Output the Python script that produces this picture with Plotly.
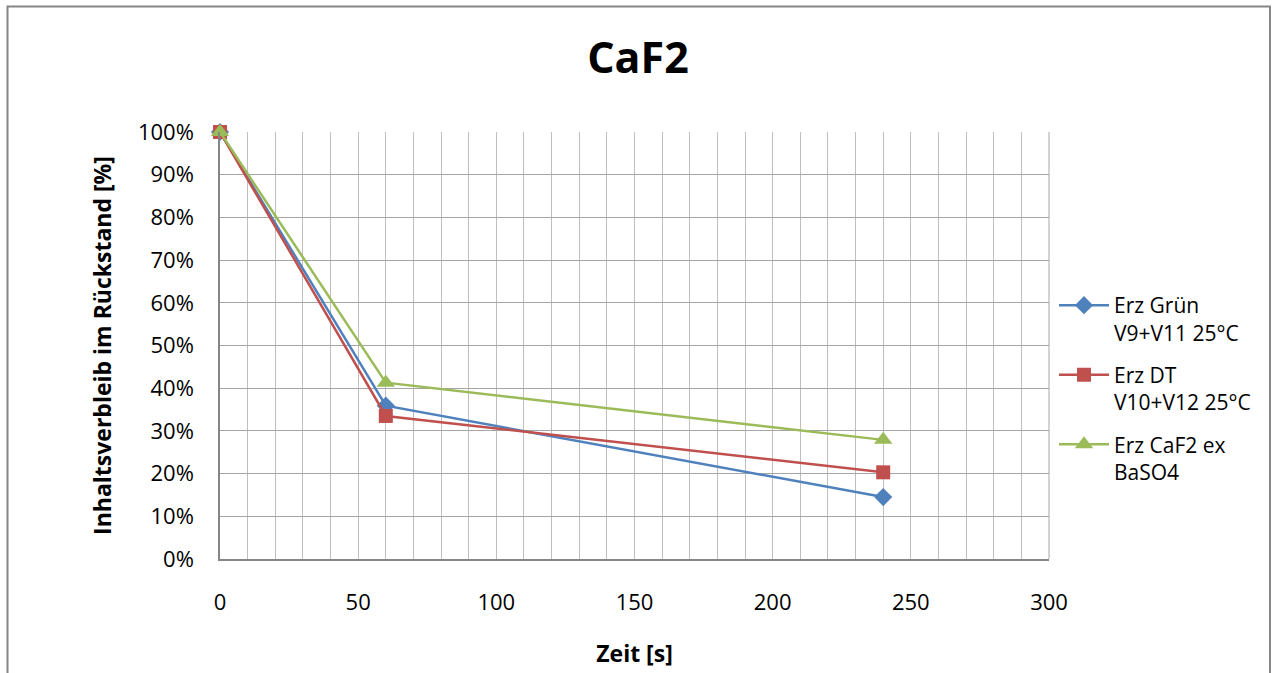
import plotly.graph_objects as go

# Zeitpunkte [s] und Inhaltsverbleib im Rückstand [%]
zeit = [0, 60, 240]
erz_gruen = [100, 35.9, 14.5]
erz_dt = [100, 33.5, 20.3]
erz_caf2 = [100, 41.3, 27.9]

serien = [
    ("Erz Grün<br>V9+V11 25°C", erz_gruen, "#4F81BD", "diamond", 14),
    ("Erz DT<br>V10+V12 25°C", erz_dt, "#C0504D", "square", 14),
    ("Erz CaF2 ex<br>BaSO4", erz_caf2, "#9BBB59", "triangle-up", 16),
]

FONT = "Open Sans, sans-serif"

fig = go.Figure()
for i, (name, werte, farbe, symbol, groesse) in enumerate(serien):
    fig.add_trace(go.Scatter(
        x=zeit, y=[w / 100 for w in werte], name=name,
        legendgroup=f"g{i}",
        mode="lines+markers",
        line=dict(color=farbe, width=2.5),
        marker=dict(symbol=symbol, size=groesse, color=farbe),
        cliponaxis=False,
    ))

W, H = 1276, 673
L, R, T, B = 220, 227, 132, 114
pw, ph = W - L - R, H - T - B

def px_x(p):
    return (p - L) / pw

def px_y(p):
    return (H - B - p) / ph

fig.update_layout(
    width=W, height=H,
    margin=dict(l=L, r=R, t=T, b=B, autoexpand=False),
    paper_bgcolor="white", plot_bgcolor="white",
    font=dict(family=FONT, size=22, color="#000000"),
    title=dict(text="<b>CaF2</b>", x=0.5, xanchor="center",
               y=1 - 58 / H, yanchor="middle",
               font=dict(size=43, family=FONT)),
    showlegend=True,
    legend=dict(x=px_x(1054), y=px_y(285), xanchor="left", yanchor="top",
                font=dict(size=21, family=FONT), tracegroupgap=12,
                valign="top", itemwidth=50, bgcolor="rgba(0,0,0,0)"),
    xaxis=dict(
        range=[0, 300], dtick=50, tick0=0, automargin=False,
        showgrid=True, gridcolor="#BFBFBF", gridwidth=1,
        minor=dict(dtick=10, showgrid=True, gridcolor="#BFBFBF", gridwidth=1),
        showline=True, linecolor="#868686", linewidth=1.5,
        mirror=False, zeroline=False, ticks="",
        ticklabelstandoff=23,
        title=dict(text="<b>Zeit [s]</b>", font=dict(size=23, family=FONT),
                   standoff=31),
    ),
    yaxis=dict(
        range=[0, 1], dtick=0.1, tickformat=".0%", automargin=False,
        showgrid=True, gridcolor="#A6A6A6", gridwidth=1,
        showline=True, linecolor="#868686", linewidth=1.5,
        zeroline=False, ticks="", ticklabelstandoff=20,
        title=dict(text="<b>Inhaltsverbleib im Rückstand [%]</b>",
                   font=dict(size=23, family=FONT), standoff=20),
    ),
    shapes=[
        # Rahmen des Diagrammbereichs
        dict(type="rect", xref="paper", yref="paper",
             x0=px_x(7.5), x1=px_x(1270), y0=px_y(690), y1=px_y(6.5),
             line=dict(color="#868686", width=2), layer="below"),
        # Abschluss rechts
        dict(type="line", xref="paper", yref="paper", x0=1, x1=1, y0=0, y1=1,
             line=dict(color="#A6A6A6", width=1), layer="below"),
    ],
)

fig.write_html("out.html")
